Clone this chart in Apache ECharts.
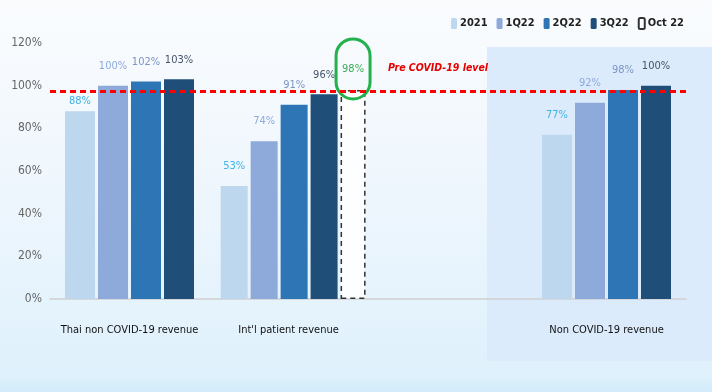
<!DOCTYPE html>
<html>
<head>
<meta charset="utf-8">
<script src="https://cdn.jsdelivr.net/npm/echarts@6/dist/echarts.min.js"></script>
<style>html,body{margin:0;padding:0;}#c{width:712px;height:392px;}</style>
</head>
<body>
<div id="c"></div>
<script>
const categories = ['Thai non COVID-19 revenue', "Int'l patient revenue", '', 'Non COVID-19 revenue'];
const seriesNames = ['2021', '1Q22', '2Q22', '3Q22', 'Oct 22'];
// 4-bar groups (Thai non COVID-19, Non COVID-19)
const v2021 = [88, null, null, 77];
const v1Q22 = [100, null, null, 92];
const v2Q22 = [102, null, null, 98];
const v3Q22 = [103, null, null, 100];
// 5-bar group (Int'l patient revenue)
const intl2021 = [null, 53, null, null];
const intl1Q22 = [null, 74, null, null];
const intl2Q22 = [null, 91, null, null];
const intl3Q22 = [null, 96, null, null];
const intlOct22 = [null, 98, null, null];
const preCovidLevel = 97.5;
const yTicks = [0, 20, 40, 60, 80, 100, 120];

const FONT = '"Liberation Sans Narrow", "DejaVu Sans Condensed", "Liberation Sans", sans-serif';
const fills = ['#bdd7ee', '#8eaadb', '#2e75b6', '#1f4e79'];
const labelColors = ['#3fb3e6', '#8eaadb', '#7b95c6', '#44546a'];

function lbl(i, extra) {
  return Object.assign({
    show: true, position: 'top', distance: 14,
    color: labelColors[i], fontFamily: FONT, fontSize: 11,
    formatter: p => p.value + '%'
  }, extra || {});
}

const main = [v2021, v1Q22, v2Q22, v3Q22];
const intl = [intl2021, intl1Q22, intl2Q22, intl3Q22];

const series = [];
main.forEach((arr, i) => {
  series.push({
    type: 'bar', name: seriesNames[i], xAxisIndex: 0, yAxisIndex: 0,
    barWidth: 30, barGap: '10%',
    itemStyle: { color: fills[i] },
    label: lbl(i),
    data: arr.map((v, k) => (i === 0 && k === 0) ? { value: v, label: { distance: 5 } } : v)
  });
});
intl.forEach((arr, i) => {
  series.push({
    type: 'bar', name: seriesNames[i], xAxisIndex: 1, yAxisIndex: 1,
    barWidth: 27, barGap: '11%',
    itemStyle: { color: fills[i] },
    label: lbl(i),
    data: arr
  });
});
series.push({
  type: 'bar', name: seriesNames[4], xAxisIndex: 1, yAxisIndex: 1,
  barWidth: 25, barGap: '11%',
  itemStyle: { color: 'rgba(255,255,255,0.85)', borderColor: '#333', borderWidth: 1.5, borderType: [5, 4] },
  label: {
    show: true, position: 'top', offset: [0, 14],
    color: '#3aae55', fontFamily: FONT, fontSize: 11,
    formatter: p => p.value + '%',
    borderColor: '#22b14c', borderWidth: 3, borderRadius: 19,
    padding: [25, 6, 24, 6]
  },
  data: intlOct22
});
series.push({
  type: 'line', name: 'pre', xAxisIndex: 0, yAxisIndex: 0, data: [], z: 10,
  markLine: {
    silent: true, symbol: 'none',
    label: { show: false },
    lineStyle: { color: '#f00', type: [6, 4], width: 3 },
    data: [{ yAxis: preCovidLevel }]
  }
});

const option = {
  animation: false,
  legend: {
    data: seriesNames, left: 446, top: 12, width: 300,
    itemWidth: 6, itemHeight: 11, itemGap: 9,
    textStyle: { fontFamily: FONT, fontSize: 11, color: '#222', fontWeight: 'bold', padding: [0, 0, 0, -2] }
  },
  graphic: [
    { type: 'rect', z: -20, shape: { x: 0, y: 0, width: 712, height: 392 },
      style: { fill: { type: 'linear', x: 0, y: 0, x2: 0, y2: 1, colorStops: [
        { offset: 0, color: '#fafcfe' }, { offset: 0.5, color: '#eef6fd' }, { offset: 0.96, color: '#dff1fc' }, { offset: 1, color: '#d2ebfa' }] } } },
    { type: 'rect', z: -19, shape: { x: 487, y: 47, width: 225, height: 314 }, style: { fill: '#dcebfb' } },
    { type: 'text', z: 5, x: 438, y: 63,
      style: { text: 'Pre COVID-19 level', fill: '#e60000', align: 'center', textAlign: 'center', font: 'italic bold 10.5px ' + FONT } }
  ],
  grid: [
    { left: 50, right: 26, top: 43, bottom: 93 },
    { left: 55, right: 22, top: 43, bottom: 93 }
  ],
  xAxis: [
    { type: 'category', gridIndex: 0, data: categories,
      axisLine: { lineStyle: { color: '#d0d0d0', width: 1.5 } }, axisTick: { show: false },
      axisLabel: { margin: 26, color: '#111', fontFamily: FONT, fontSize: 11, interval: 0 } },
    { type: 'category', gridIndex: 1, data: categories, show: false }
  ],
  yAxis: [
    { type: 'value', gridIndex: 0, min: yTicks[0], max: yTicks[yTicks.length - 1], interval: 20,
      splitLine: { show: false },
      axisLabel: { color: '#666', fontFamily: FONT, fontSize: 12, margin: 8, formatter: '{value}%' } },
    { type: 'value', gridIndex: 1, min: yTicks[0], max: yTicks[yTicks.length - 1], interval: 20, show: false, splitLine: { show: false } }
  ],
  series: series
};
echarts.init(document.getElementById('c')).setOption(option);
</script>
</body>
</html>
